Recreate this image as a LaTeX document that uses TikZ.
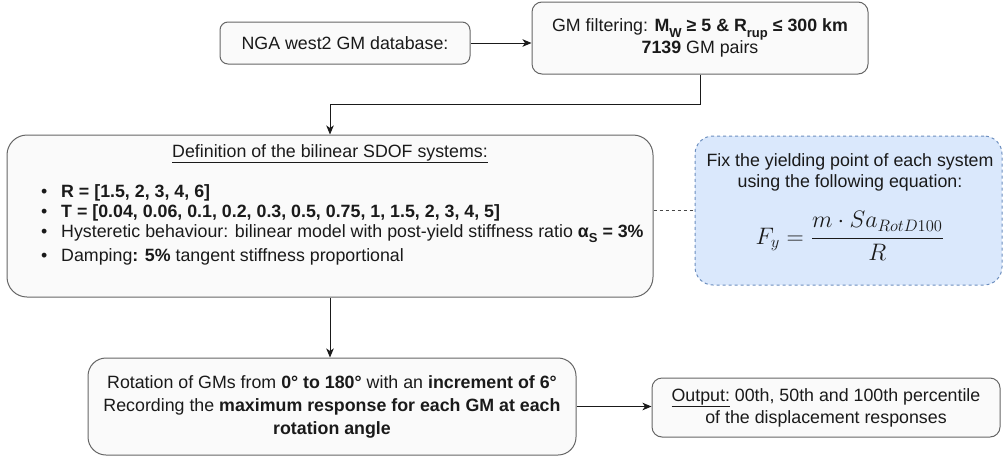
\documentclass[tikz,border=0pt]{standalone}
\usepackage{fontspec}
\setmainfont{Liberation Sans}
\usetikzlibrary{arrows.meta,calc}
\definecolor{boxline}{HTML}{666666}
\definecolor{boxfill}{HTML}{FAFAFA}
\definecolor{bluefill}{HTML}{DAE8FC}
\definecolor{blueline}{HTML}{6C8EBF}
\definecolor{ink}{HTML}{1A1A1A}
\newcommand\lowsub[1]{\raisebox{-0.32em}{\fontsize{13}{13}\selectfont #1}}
\begin{document}
\begin{tikzpicture}[x=1pt,y=-1pt, font=\fontsize{17.8}{21.5}\selectfont, text=ink,
  box/.style={draw=boxline, fill=boxfill, line width=1pt, inner sep=0pt, align=center},
  conn/.style={draw=ink, line width=1pt, -{Stealth[length=9pt,width=7.5pt,inset=2.5pt]}},
  dotlink/.style={draw=ink!80, line width=0.9pt, dash pattern=on 3pt off 3pt},
  bullet/.style={anchor=base west, inner sep=0pt},
  plain/.style={inner sep=0pt, align=center}]
\useasboundingbox (0,0) rectangle (1003,466);
% boxes
\node[box, rounded corners=8pt, minimum width=250pt, minimum height=42pt] (nga) at (345,43) {NGA west2 GM database:};
\node[box, rounded corners=10pt, minimum width=336pt, minimum height=72pt] (gm) at (700,38)
  {GM filtering: \textbf{M\lowsub{W} ≥ 5 \& R\lowsub{rup} ≤ 300 km}\\ \textbf{7139} GM pairs};
\node[box, rounded corners=20pt, minimum width=646pt, minimum height=162pt] (def) at (330,216) {};
\node[draw=blueline, fill=bluefill, line width=1pt, dash pattern=on 3pt off 3pt, rounded corners=18pt,
  minimum width=307pt, minimum height=149pt] (fix) at (848.5,210.5) {};
\node[box, rounded corners=18pt, minimum width=488pt, minimum height=97pt,
  font=\fontsize{17.8}{23}\selectfont] (rot) at (332,406.5)
  {Rotation of GMs from \textbf{0° to 180°} with an \textbf{increment of 6°}\\
   Recording the \textbf{maximum response for each GM at each}\\ \textbf{rotation angle}};
\node[box, rounded corners=10pt, minimum width=348pt, minimum height=59pt,
  font=\fontsize{17.8}{22}\selectfont] (out) at (826,407.5)
  {\underline{Output:} 00th, 50th and 100th percentile\\ of the displacement responses};
% definition box content
\node[plain] (deftitle) at (330,154) {\underline{Definition of the bilinear SDOF systems:}};
\node[bullet] (b1) at (41,197) {•};
\node[bullet] (l1) at (61,197) {\textbf{R = [1.5, 2, 3, 4, 6]}};
\node[bullet] (b2) at (41,217) {•};
\node[bullet] (l2) at (61,217) {\textbf{T = [0.04, 0.06, 0.1, 0.2, 0.3, 0.5, 0.75, 1, 1.5, 2, 3, 4, 5]}};
\node[bullet] (b3) at (41,237) {•};
\node[bullet] (l3) at (61,237) {Hysteretic behaviour: bilinear model with post-yield stiffness ratio \textbf{α\lowsub{S} = 3\%}};
\node[bullet] (b4) at (41,261) {•};
\node[bullet] (l4) at (61,261) {Damping\textbf{: 5\%} tangent stiffness proportional};
% blue box content
\node[plain, font=\fontsize{17.8}{21}\selectfont] (fixtext) at (850,172)
  {Fix the yielding point of each system\\ using the following equation:};
\node[plain] (eq) at (850,236) {\scalebox{1.38}{$\displaystyle F_y=\frac{m\cdot Sa_{RotD100}}{R}$}};
% connectors
\coordinate (bend) at (700,104);
\draw[conn] (nga.east) -- (nga.east -| gm.west);
\draw[conn] (gm.south) -- (bend) -| (def.north);
\draw[dotlink] (fix.west -| def.east) -- (fix.west);
\draw[conn] (def.south) -- (def.south |- rot.north);
\draw[conn] (rot.east) -- (rot.east -| out.west);
\end{tikzpicture}
\end{document}
